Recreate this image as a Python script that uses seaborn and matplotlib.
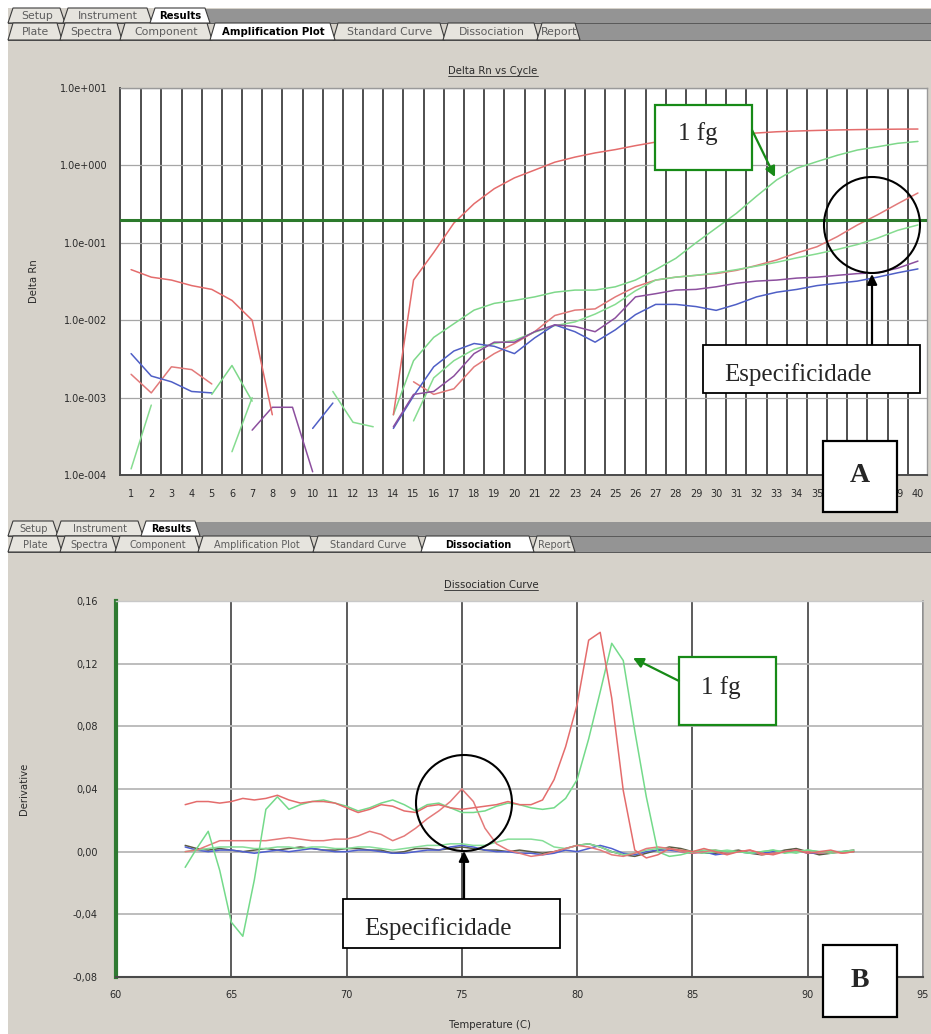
import numpy as np
import pandas as pd
import matplotlib
matplotlib.use("Agg")
import matplotlib.pyplot as plt
import seaborn as sns
from matplotlib.patches import Rectangle, Polygon, Ellipse, FancyArrowPatch
from matplotlib.lines import Line2D
from matplotlib.ticker import FixedLocator, NullLocator

nan = np.nan

# ---------------- data: amplification plot ----------------
cycles = list(range(1, 41))
amp_red_hi = [0.045, 0.036, 0.033, 0.028, 0.025, 0.018, 0.010, 0.0006, nan, nan,
              nan, nan, nan, 0.0006, 0.033, 0.075, 0.18, 0.32, 0.50, 0.69,
              0.87, 1.10, 1.28, 1.45, 1.60, 1.80, 2.00, 2.15, 2.30, 2.42,
              2.52, 2.62, 2.72, 2.78, 2.83, 2.87, 2.90, 2.92, 2.94, 2.95]
amp_red_lo = [0.002, 0.00115, 0.0025, 0.0023, 0.0015, nan, nan, nan, nan, nan,
              nan, nan, nan, nan, 0.0016, 0.0011, 0.0013, 0.0025, 0.0037, 0.005,
              0.0071, 0.0115, 0.0135, 0.014, 0.020, 0.027, 0.033, 0.036, 0.038, 0.040,
              0.044, 0.051, 0.060, 0.074, 0.089, 0.12, 0.17, 0.23, 0.32, 0.44]
amp_green_1fg = [nan, nan, nan, nan, 0.0011, 0.0026, 0.0009, nan, nan, nan,
                 nan, nan, nan, 0.0006, 0.003, 0.006, 0.009, 0.0135, 0.0165, 0.018,
                 0.020, 0.023, 0.0245, 0.0245, 0.027, 0.033, 0.045, 0.063, 0.10, 0.155,
                 0.24, 0.40, 0.65, 0.92, 1.12, 1.35, 1.58, 1.74, 1.93, 2.04]
amp_green_lo = [0.00012, 0.0008, nan, nan, nan, 0.0002, 0.001, nan, nan, nan,
                0.0012, 0.00048, 0.00042, nan, 0.0005, 0.0018, 0.003, 0.0042, 0.005, 0.0055,
                0.007, 0.0085, 0.0095, 0.012, 0.016, 0.024, 0.033, 0.036, 0.038, 0.041,
                0.045, 0.050, 0.056, 0.064, 0.072, 0.082, 0.095, 0.115, 0.145, 0.17]
amp_blue = [0.0037, 0.0019, 0.0016, 0.0012, 0.00115, nan, nan, nan, nan, 0.0004,
            0.00085, nan, nan, 0.0004, 0.00105, 0.0025, 0.004, 0.005, 0.0046, 0.0037,
            0.0059, 0.0087, 0.0071, 0.0052, 0.0075, 0.0118, 0.016, 0.016, 0.015, 0.0134,
            0.016, 0.020, 0.023, 0.025, 0.028, 0.030, 0.032, 0.036, 0.041, 0.046]
amp_purple = [nan, nan, nan, nan, nan, nan, 0.00038, 0.00075, 0.00075, 0.00011,
              nan, nan, nan, 0.00042, 0.0011, 0.0012, 0.0019, 0.0037, 0.0052, 0.0052,
              0.0071, 0.0087, 0.0083, 0.0071, 0.0107, 0.020, 0.022, 0.0245, 0.025, 0.027,
              0.030, 0.032, 0.033, 0.035, 0.036, 0.038, 0.040, 0.041, 0.047, 0.058]
amp_threshold = 0.2
amp_ytick_vals = [1e-4, 1e-3, 1e-2, 1e-1, 1e0, 1e1]
amp_ytick_labels = ["1.0e-004", "1.0e-003", "1.0e-002", "1.0e-001", "1.0e+000", "1.0e+001"]

# ---------------- data: dissociation curve ----------------
temps = [63.0, 63.5, 64.0, 64.5, 65.0, 65.5, 66.0, 66.5, 67.0, 67.5,
         68.0, 68.5, 69.0, 69.5, 70.0, 70.5, 71.0, 71.5, 72.0, 72.5,
         73.0, 73.5, 74.0, 74.5, 75.0, 75.5, 76.0, 76.5, 77.0, 77.5,
         78.0, 78.5, 79.0, 79.5, 80.0, 80.5, 81.0, 81.5, 82.0, 82.5,
         83.0, 83.5, 84.0, 84.5, 85.0, 85.5, 86.0, 86.5, 87.0, 87.5,
         88.0, 88.5, 89.0, 89.5, 90.0, 90.5, 91.0, 91.5, 92.0]
melt_red_hi = [0.030, 0.032, 0.032, 0.031, 0.032, 0.034, 0.033, 0.034, 0.036, 0.033,
               0.031, 0.032, 0.032, 0.031, 0.028, 0.025, 0.027, 0.030, 0.029, 0.026,
               0.025, 0.029, 0.030, 0.028, 0.027, 0.028, 0.029, 0.030, 0.032, 0.030,
               0.030, 0.033, 0.046, 0.067, 0.094, 0.135, 0.140, 0.098, 0.039, 0.001,
               -0.004, -0.002, 0.002, 0.001, 0.000, 0.002, 0.000, -0.002, 0.000, 0.001,
               -0.001, -0.002, 0.000, 0.001, -0.001, 0.000, 0.001, -0.001, 0.000]
melt_green_1fg = [-0.010, 0.002, 0.013, -0.012, -0.045, -0.054, -0.018, 0.027, 0.035, 0.027,
                  0.030, 0.032, 0.033, 0.031, 0.029, 0.026, 0.028, 0.031, 0.033, 0.030,
                  0.026, 0.030, 0.031, 0.028, 0.025, 0.025, 0.026, 0.029, 0.031, 0.030,
                  0.028, 0.027, 0.028, 0.034, 0.046, 0.072, 0.102, 0.133, 0.122, 0.077,
                  0.035, 0.000, -0.003, -0.002, 0.000, 0.001, 0.001, 0.000, 0.000, -0.001,
                  0.000, 0.001, -0.001, 0.000, 0.001, 0.000, 0.000, 0.000, 0.000]
melt_red_lo = [0.000, 0.001, 0.004, 0.007, 0.007, 0.007, 0.007, 0.007, 0.008, 0.009,
               0.008, 0.007, 0.007, 0.008, 0.008, 0.010, 0.013, 0.011, 0.007, 0.010,
               0.015, 0.021, 0.026, 0.032, 0.040, 0.032, 0.015, 0.005, 0.001, -0.001,
               -0.003, -0.002, 0.000, 0.002, 0.004, 0.003, 0.001, -0.002, -0.003, -0.001,
               0.002, 0.003, 0.002, 0.000, -0.001, 0.000, 0.001, -0.001, 0.000, 0.001,
               -0.002, -0.001, 0.000, 0.001, 0.000, -0.001, 0.000, -0.001, 0.000]
melt_green_lo = [0.000, 0.001, 0.002, 0.003, 0.003, 0.003, 0.002, 0.002, 0.003, 0.003,
                 0.002, 0.003, 0.003, 0.002, 0.002, 0.003, 0.003, 0.002, 0.001, 0.002,
                 0.003, 0.004, 0.004, 0.005, 0.005, 0.004, 0.004, 0.006, 0.008, 0.008,
                 0.008, 0.007, 0.003, 0.002, 0.004, 0.005, 0.003, 0.000, -0.002, -0.001,
                 0.001, 0.002, 0.002, 0.001, 0.000, -0.001, 0.000, 0.001, 0.000, -0.001,
                 0.000, 0.001, 0.000, -0.001, 0.001, 0.000, -0.001, 0.000, 0.001]
melt_blue = [0.003, 0.001, 0.000, 0.001, 0.001, 0.000, -0.001, 0.000, 0.001, 0.000,
             0.001, 0.002, 0.001, 0.000, 0.000, 0.001, 0.001, 0.000, -0.001, -0.001,
             0.000, 0.001, 0.001, 0.003, 0.004, 0.003, 0.001, 0.000, 0.000, -0.001,
             -0.001, -0.002, -0.001, 0.001, 0.000, 0.002, 0.004, 0.002, -0.001, -0.002,
             0.000, 0.001, 0.001, 0.000, -0.001, 0.000, -0.002, -0.001, 0.000, -0.001,
             -0.001, 0.000, 0.000, 0.001, -0.001, -0.001, 0.000, 0.000, 0.000]
melt_dark = [0.004, 0.002, 0.001, 0.002, 0.001, 0.000, 0.001, 0.002, 0.001, 0.002,
             0.003, 0.002, 0.001, 0.001, 0.002, 0.002, 0.001, 0.001, -0.001, 0.000,
             0.002, 0.002, 0.001, 0.002, 0.003, 0.002, 0.001, 0.001, 0.000, 0.001,
             0.000, -0.001, 0.000, 0.002, 0.004, 0.005, 0.003, 0.000, -0.002, -0.003,
             -0.001, 0.001, 0.003, 0.002, 0.000, -0.001, -0.001, 0.000, 0.001, -0.001,
             -0.002, -0.001, 0.001, 0.002, 0.000, -0.002, -0.001, 0.000, 0.001]
melt_xticks = [60, 65, 70, 75, 80, 85, 90, 95]
melt_yticks = [-0.08, -0.04, 0.0, 0.04, 0.08, 0.12, 0.16]
melt_ytick_labels = ["-0,08", "-0,04", "0,00", "0,04", "0,08", "0,12", "0,16"]

tabs_row1 = ["Setup", "Instrument", "Results"]
tabs_row2 = ["Plate", "Spectra", "Component", "Amplification Plot",
             "Standard Curve", "Dissociation", "Report"]


def long_form(x, series):
    rows = []
    for name, vals in series.items():
        seg = 0
        for xi, v in zip(x, vals):
            if v is None or (isinstance(v, float) and np.isnan(v)):
                seg += 1
                continue
            rows.append((name, f"{name}-{seg}", xi, v))
    return pd.DataFrame(rows, columns=["series", "seg", "x", "y"])


# ---------------- figure ----------------
W, H = 931, 1034
sns.set_style("white")
plt.rcParams['font.family'] = ['DejaVu Sans']
PANEL = '#d6d2ca'
fig = plt.figure(figsize=(W / 100, H / 100), dpi=100)
fig.patch.set_facecolor(PANEL)


def rect(x0, y0, x1, y1):
    return [x0 / W, 1 - y1 / H, (x1 - x0) / W, (y1 - y0) / H]


def frect(x0, y0, x1, y1, **kw):
    fig.add_artist(Rectangle((x0 / W, 1 - y1 / H), (x1 - x0) / W, (y1 - y0) / H,
                             transform=fig.transFigure, **kw))


def ftext(x, y, s, **kw):
    return fig.text(x / W, 1 - y / H, s, **kw)


# white frame strips
frect(0, 0, W, 8, facecolor='white', edgecolor='none', zorder=1)
frect(0, 0, 8, H, facecolor='white', edgecolor='none', zorder=1)


def draw_tabs(spans, labels, y0, y1, active, bar_from, fs=7.8, fsb=7.3):
    frect(bar_from, y0 + 1, W, y1, facecolor='#949494', edgecolor='none', zorder=1)
    order = [i for i in range(len(labels)) if labels[i] != active] + \
            [i for i in range(len(labels)) if labels[i] == active]
    for i in order:
        (a, b), lab = spans[i], labels[i]
        act = lab == active
        pts = [(a, y1), (a + 5, y0), (b - 3, y0), (b + 2, y1)]
        pts = [(px / W, 1 - py / H) for px, py in pts]
        fig.add_artist(Polygon(pts, closed=True, transform=fig.transFigure,
                               facecolor='white' if act else '#e6e4de',
                               edgecolor='#3c3c3c', lw=0.8, zorder=2 + (1 if act else 0)))
        ftext((a + b) / 2 + 1.5, (y0 + y1) / 2 + 0.5, lab, ha='center', va='center',
              fontsize=fsb if act else fs, color='black' if act else '#5c5c5c',
              fontweight='bold' if act else 'normal', zorder=5)
    frect(8, y1, W, y1 + 1.2, facecolor='#5a5a5a', edgecolor='none', zorder=1)


# top panel tabs
draw_tabs([(8, 63), (63, 150), (150, 208)], tabs_row1, 8, 23, "Results", 206)
draw_tabs([(8, 60), (60, 120), (120, 210), (210, 333), (333, 443), (443, 537), (537, 578)],
          tabs_row2, 23, 40, "Amplification Plot", 576)
# bottom panel tabs
draw_tabs([(8, 56), (56, 141), (141, 198)], tabs_row1, 521, 536, "Results", 196,
          fs=7.0, fsb=6.9)
draw_tabs([(8, 60), (60, 115), (115, 198), (198, 313), (313, 421), (421, 532), (532, 573)],
          tabs_row2, 536, 552, "Dissociation", 571, fs=7.0, fsb=6.9)

# ---------------- amplification axes ----------------
ax1 = fig.add_axes(rect(120, 88, 927, 475))
ax1.set_facecolor('white')
amp_df = long_form(cycles, {
    "red_lo": amp_red_lo, "green_lo": amp_green_lo, "blue": amp_blue,
    "purple": amp_purple, "green_1fg": amp_green_1fg, "red_hi": amp_red_hi})
amp_pal = {"red_hi": "#e46c6c", "red_lo": "#e27a7a", "green_1fg": "#7ed88a",
           "green_lo": "#86dc90", "blue": "#4f5fc6", "purple": "#8c4f9e"}
ax1.set_yscale('log')
sns.lineplot(data=amp_df, x="x", y="y", hue="series", units="seg", estimator=None,
             palette=amp_pal, legend=False, linewidth=1.1, ax=ax1, zorder=2)
ax1.set_xlim(0.45, 40.45)
ax1.set_ylim(1e-4, 1e1)
ax1.axhline(amp_threshold, color='#2c7a2c', lw=2.2, zorder=3)
ax1.set_xticks(cycles)
ax1.set_xticklabels([str(c) for c in cycles])
ax1.xaxis.set_minor_locator(FixedLocator([c + 0.5 for c in cycles[:-1]]))
ax1.yaxis.set_major_locator(FixedLocator(amp_ytick_vals))
ax1.set_yticklabels(amp_ytick_labels)
ax1.yaxis.set_minor_locator(NullLocator())
ax1.grid(False)
ax1.grid(which='minor', axis='x', color='#4e4e4e', lw=1.4)
ax1.grid(which='major', axis='y', color='#a6a6a6', lw=0.9)
ax1.set_axisbelow(True)
ax1.tick_params(which='both', length=0, labelsize=7, colors='#2a2a2a')
ax1.tick_params(axis='x', pad=10)
ax1.tick_params(axis='y', pad=9)
ax1.set_xlabel("")
ax1.set_ylabel("Delta Rn", fontsize=7.3, color='#2a2a2a')
ax1.yaxis.set_label_coords(-0.1, 0.5)
for side in ['left', 'bottom']:
    ax1.spines[side].set_color('#4a4a4a')
    ax1.spines[side].set_linewidth(1.4)
for side in ['top', 'right']:
    ax1.spines[side].set_color('#9a9a9a')
    ax1.spines[side].set_linewidth(1.0)

# ---------------- dissociation axes ----------------
ax2 = fig.add_axes(rect(116, 601, 923, 977))
ax2.set_facecolor('white')
melt_df = long_form(temps, {
    "dark": melt_dark, "blue": melt_blue, "green_lo": melt_green_lo,
    "red_lo": melt_red_lo, "green_1fg": melt_green_1fg, "red_hi": melt_red_hi})
melt_pal = {"red_hi": "#e46c6c", "red_lo": "#e47a7a", "green_1fg": "#74da8a",
            "green_lo": "#86de98", "blue": "#4f5fd0", "dark": "#5a5a42"}
sns.lineplot(data=melt_df, x="x", y="y", hue="series", units="seg", estimator=None,
             palette=melt_pal, legend=False, linewidth=1.1, ax=ax2, zorder=2)
ax2.set_xlim(60, 95)
ax2.set_ylim(-0.08, 0.16)
ax2.set_xticks(melt_xticks)
ax2.set_xticklabels([str(t) for t in melt_xticks])
ax2.set_yticks(melt_yticks)
ax2.set_yticklabels(melt_ytick_labels)
ax2.grid(False)
ax2.grid(axis='x', color='#5c5c5c', lw=1.4)
ax2.grid(axis='y', color='#b8b8b8', lw=1.3)
ax2.set_axisbelow(True)
ax2.tick_params(length=0, labelsize=7, colors='#2a2a2a')
ax2.tick_params(axis='x', pad=9)
ax2.tick_params(axis='y', pad=13)
ax2.set_xlabel("Temperature (C)", fontsize=7.3, color='#2a2a2a')
ax2.xaxis.set_label_coords(0.463, -0.114)
ax2.set_ylabel("Derivative", fontsize=7.3, color='#2a2a2a')
ax2.yaxis.set_label_coords(-0.108, 0.5)
ax2.spines['left'].set_color('#2f7a32')
ax2.spines['left'].set_linewidth(3.0)
ax2.spines['bottom'].set_color('#4a4a4a')
ax2.spines['bottom'].set_linewidth(1.5)
ax2.spines['right'].set_color('#9a9a9a')
ax2.spines['right'].set_linewidth(1.2)
ax2.spines['top'].set_color('#c8c8c8')
ax2.spines['top'].set_linewidth(1.0)

# ---------------- titles (underlined) ----------------
t1 = ftext(493, 71, "Delta Rn vs Cycle", ha='center', va='center', fontsize=7.3, color='#2a2a2a')
t2 = ftext(491, 585, "Dissociation Curve", ha='center', va='center', fontsize=7.3, color='#2a2a2a')
fig.canvas.draw()
for t in (t1, t2):
    bb = t.get_window_extent()
    fig.add_artist(Line2D([bb.x0 / W, bb.x1 / W], [(bb.y0 + 0.5) / H] * 2,
                          transform=fig.transFigure, color='#2a2a2a', lw=0.6))

# ---------------- overlay annotations ----------------
SERIF = ['Liberation Serif', 'DejaVu Serif']
GREEN = '#178a17'


def box(x0, y0, x1, y1, ec, lw=1.3):
    frect(x0, y0, x1, y1, facecolor='white', edgecolor=ec, lw=lw, zorder=10)


def circle(cx, cy, r):
    fig.add_artist(Ellipse((cx / W, 1 - cy / H), 2 * r / W, 2 * r / H, transform=fig.transFigure,
                           fill=False, edgecolor='black', lw=1.5, zorder=10))


def arrow(x0, y0, x1, y1, color, ms=15):
    fig.add_artist(FancyArrowPatch((x0 / W, 1 - y0 / H), (x1 / W, 1 - y1 / H),
                                   transform=fig.transFigure, arrowstyle='-|>',
                                   mutation_scale=ms, color=color, lw=1.6,
                                   shrinkA=0, shrinkB=0, zorder=10))


# panel A
box(655, 105, 752, 170, GREEN, lw=1.6)
ftext(678, 140, "1 fg", ha='left', va='baseline', fontsize=18, family=SERIF, zorder=11)
arrow(752, 130, 775, 177, GREEN)
circle(872, 225, 48)
arrow(872, 345, 872, 274, 'black')
box(703, 345, 920, 393, 'black')
ftext(724, 381, "Especificidade", ha='left', va='baseline', fontsize=18, family=SERIF, zorder=11)
box(823, 441, 897, 512, 'black', lw=1.6)
ftext(860, 482, "A", ha='center', va='baseline', fontsize=20, fontweight='bold',
      family=SERIF, zorder=11)

# panel B
box(679, 657, 776, 725, GREEN, lw=1.6)
ftext(701, 694, "1 fg", ha='left', va='baseline', fontsize=18, family=SERIF, zorder=11)
arrow(679, 681, 633, 658, GREEN)
circle(464, 803, 48)
arrow(464, 899, 464, 851, 'black')
box(343, 899, 560, 948, 'black')
ftext(364, 935, "Especificidade", ha='left', va='baseline', fontsize=18, family=SERIF, zorder=11)
box(823, 945, 897, 1017, 'black', lw=1.6)
ftext(860, 987, "B", ha='center', va='baseline', fontsize=20, fontweight='bold',
      family=SERIF, zorder=11)

fig.savefig("out.png", dpi=100, facecolor=fig.get_facecolor())
